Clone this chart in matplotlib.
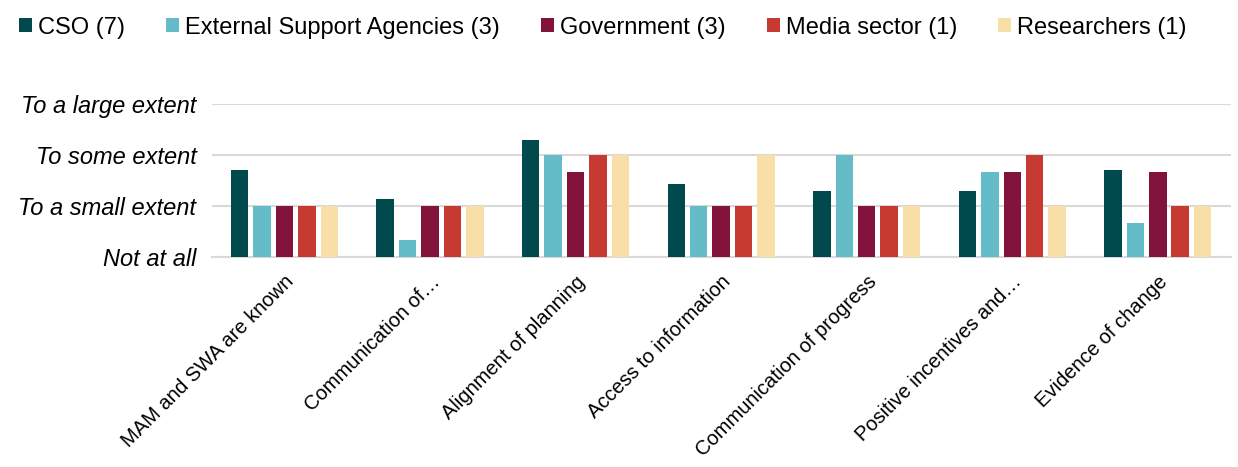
import numpy as np
import matplotlib.pyplot as plt

plt.rcParams['font.family'] = ['Liberation Sans', 'DejaVu Sans']

categories = ["MAM and SWA are known", "Communication of\u2026", "Alignment of planning",
              "Access to information", "Communication of progress",
              "Positive incentives and\u2026", "Evidence of change"]
groups = ["CSO (7)", "External Support Agencies (3)", "Government (3)",
          "Media sector (1)", "Researchers (1)"]
colors = ["#004a4d", "#63bcc8", "#82133a", "#c63a32", "#f7dfa7"]
levels = ["Not at all", "To a small extent", "To some extent", "To a large extent"]

cso = [1.71, 1.14, 2.29, 1.43, 1.29, 1.29, 1.71]
esa = [1.0, 0.33, 2.0, 1.0, 2.0, 1.67, 0.67]
gov = [1.0, 1.0, 1.67, 1.0, 1.0, 1.67, 1.67]
media = [1.0, 1.0, 2.0, 1.0, 1.0, 2.0, 1.0]
researchers = [1.0, 1.0, 2.0, 2.0, 1.0, 1.0, 1.0]
series = [cso, esa, gov, media, researchers]

fig = plt.figure(figsize=(12.38, 4.67), dpi=100)
ax = fig.add_axes([0.171, 0.45, 0.823, 0.328])

x = np.arange(len(categories))
step = 0.154
width = 0.12
handles = []
for i, (vals, col) in enumerate(zip(series, colors)):
    b = ax.bar(x + (i - 2) * step, vals, width, color=col, label=groups[i], zorder=3)
    handles.append(b)

ax.set_xlim(-0.5, len(categories) - 0.5)
ax.set_ylim(0, 3)
ax.set_yticks(range(4))
ax.set_yticklabels(levels, fontsize=17, style='italic')
ax.yaxis.grid(True, color='#d9d9d9', linewidth=1.5, zorder=0)
ax.tick_params(axis='y', length=0, pad=11)
ax.tick_params(axis='x', length=0, pad=11)
ax.set_xticks(x)
ax.set_xticklabels(categories, rotation=45, ha='right', rotation_mode='anchor', fontsize=14.5)
for side in ['top', 'right', 'left']:
    ax.spines[side].set_visible(False)
ax.spines['bottom'].set_color('#d9d9d9')
ax.spines['bottom'].set_linewidth(1.5)

fig.legend(handles=handles, loc='upper left', bbox_to_anchor=(-0.002, 1.01), ncol=5,
           frameon=False, fontsize=17, handlelength=0.55, handleheight=0.55,
           handletextpad=0.25, columnspacing=1.75)

fig.savefig("out.png", dpi=100)
